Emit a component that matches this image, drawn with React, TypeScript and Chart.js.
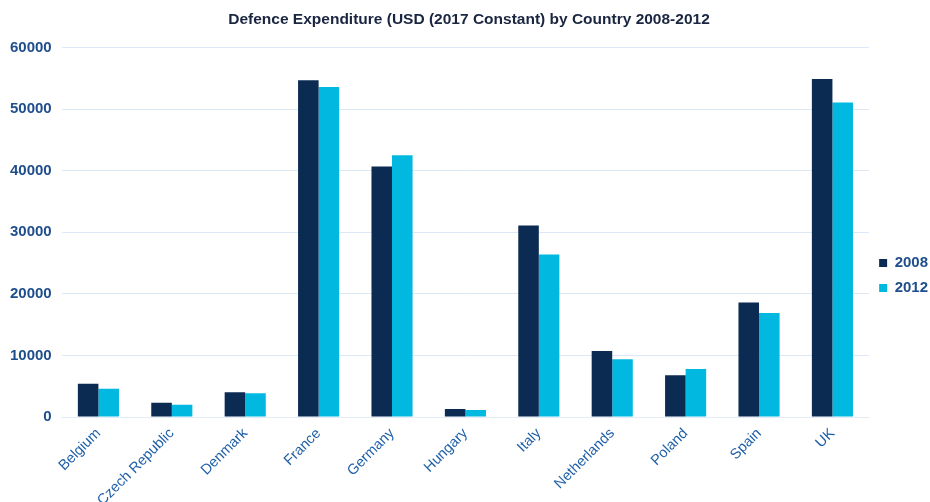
import React, { useEffect, useRef } from "react";
import { Chart, registerables } from "chart.js";

Chart.register(...registerables);

const countries = ["Belgium", "Czech Republic", "Denmark", "France", "Germany", "Hungary", "Italy", "Netherlands", "Poland", "Spain", "UK"];
const values2008 = [5400, 2300, 4000, 54700, 40700, 1300, 31100, 10700, 6800, 18600, 54900];
const values2012 = [4600, 2000, 3850, 53600, 42500, 1150, 26400, 9400, 7800, 16900, 51100];
const yTicks = [0, 10000, 20000, 30000, 40000, 50000, 60000];

export default function App() {
  const ref = useRef<HTMLCanvasElement | null>(null);
  useEffect(() => {
    document.body.style.margin = "0";
    const ctx = ref.current!;
    const chart = new Chart(ctx, {
      type: "bar",
      data: {
        labels: countries,
        datasets: [
          { label: "2008", data: values2008, backgroundColor: "#0b2b52" },
          { label: "2012", data: values2012, backgroundColor: "#00b8e0" },
        ],
      },
      options: {
        animation: false,
        responsive: false,
        maintainAspectRatio: false,
        layout: { padding: { left: 0, right: -8, top: 4, bottom: 0 } },
        datasets: { bar: { categoryPercentage: 0.56, barPercentage: 1 } },
        plugins: {
          title: {
            display: true,
            text: "Defence Expenditure (USD (2017 Constant) by Country 2008-2012",
            color: "#1a2540",
            font: { family: "Liberation Sans", size: 15.5, weight: "bold" },
            padding: { top: 6, bottom: 19 },
          },
          legend: {
            position: "right",
            title: { display: true, text: " ", font: { size: 1 }, padding: { top: 44, bottom: 0 } },
            labels: {
              boxWidth: 8,
              boxHeight: 8,
              color: "#1f4e8c",
              font: { family: "Liberation Sans", size: 15, weight: "bold" },
              padding: 10,
            },
          },
          tooltip: { enabled: false },
        },
        scales: {
          x: {
            grid: { display: false, drawTicks: false },
            border: { color: "#e3ecf7" },
            afterFit: (s: any) => {
              s.paddingLeft = 0;
              s.height = 85;
            },
            ticks: {
              color: "#1f5fa8",
              font: { family: "Liberation Sans", size: 14.5 },
              maxRotation: 45,
              minRotation: 45,
              padding: 8,
            },
          },
          y: {
            min: 0,
            max: 60000,
            afterBuildTicks: (axis: any) => {
              axis.ticks = yTicks.map((v) => ({ value: v }));
            },
            grid: { color: "#dce8f5", drawTicks: false },
            border: { display: false },
            ticks: {
              color: "#1f4e8c",
              font: { family: "Liberation Sans", size: 15, weight: "bold" },
              padding: 10,
              callback: (v: any) => String(v),
            },
          },
        },
      },
    });
    return () => chart.destroy();
  }, []);
  return (
    <div style={{ width: 930, height: 502 }}>
      <canvas ref={ref} width={930} height={502} />
    </div>
  );
}
